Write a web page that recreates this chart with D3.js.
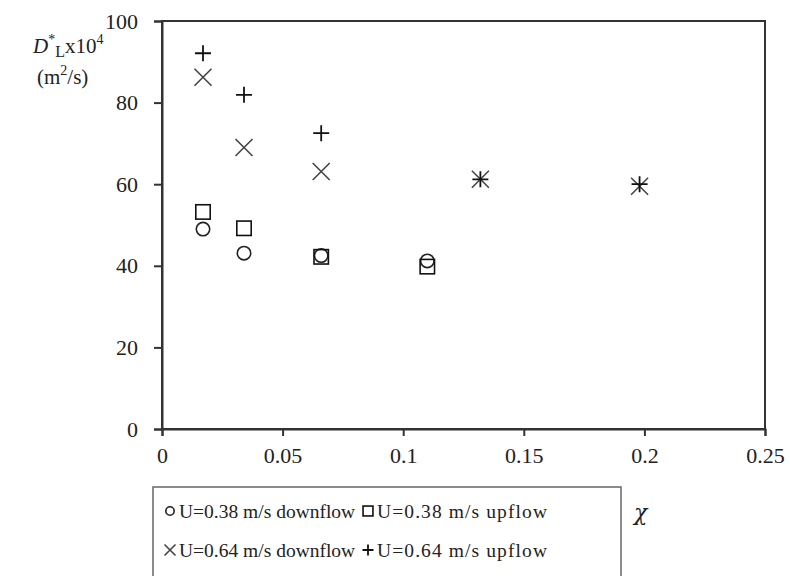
<!DOCTYPE html>
<html><head><meta charset="utf-8">
<script src="https://cdn.jsdelivr.net/npm/d3@7"></script>
<style>body{margin:0;background:#fff}svg{display:block}text{font-family:"Liberation Serif","Times New Roman",serif;fill:#222}</style>
</head><body><svg id="c" width="790" height="576"></svg>
<script>
const seriesNames = ["U=0.38 m/s downflow","U=0.38 m/s upflow","U=0.64 m/s downflow","U=0.64 m/s upflow"];
const seriesSymbols = ["circle","square","cross","plus"];
const chi038 = [0.017,0.034,0.066,0.110];
const down038 = [49.0,43.1,42.5,41.2];
const up038 = [53.2,49.2,42.2,39.8];
const chi064 = [0.017,0.034,0.066,0.132,0.198];
const down064 = [86.2,69.0,63.1,61.2,59.5];
const up064 = [92.1,81.9,72.5,61.2,60.0];
const xTicks = [0,0.05,0.1,0.15,0.2,0.25];
const xTickLabels = ["0","0.05","0.1","0.15","0.2","0.25"];
const yTicks = [0,20,40,60,80,100];

const series = [
  {name:seriesNames[0],sym:seriesSymbols[0],x:chi038,y:down038},
  {name:seriesNames[1],sym:seriesSymbols[1],x:chi038,y:up038},
  {name:seriesNames[2],sym:seriesSymbols[2],x:chi064,y:down064},
  {name:seriesNames[3],sym:seriesSymbols[3],x:chi064,y:up064}
];

const L=162,R=765,T=21,B=429;
const svg=d3.select("#c");
const x=d3.scaleLinear().domain([0,0.25]).range([L,R]);
const y=d3.scaleLinear().domain([0,100]).range([B,T]);

svg.append("rect").attr("x",L).attr("y",T).attr("width",R-L).attr("height",B-T)
  .attr("fill","none").attr("stroke","#333").attr("stroke-width",2);

const xa=svg.append("g").attr("transform",`translate(0,${B})`)
  .call(d3.axisBottom(x).tickValues(xTicks).tickFormat((d,i)=>xTickLabels[i]).tickSize(7).tickPadding(11));
const ya=svg.append("g").attr("transform",`translate(${L},0)`)
  .call(d3.axisLeft(y).tickValues(yTicks).tickSize(8).tickPadding(16));
[xa,ya].forEach(g=>{
  g.attr("font-family",null);
  g.select(".domain").attr("stroke","#333").attr("stroke-width",2);
  g.selectAll(".tick line").attr("stroke","#333").attr("stroke-width",2);
  g.selectAll(".tick text").style("font-family","'Liberation Serif',serif").attr("font-size",22).attr("fill","#222");
});

function drawSym(g,sym,cx,cy,s){
  if(sym==="circle") g.append("circle").attr("cx",cx).attr("cy",cy).attr("r",s*0.42).attr("fill","none").attr("stroke","#222").attr("stroke-width",1.6);
  else if(sym==="square") g.append("rect").attr("x",cx-s*0.45).attr("y",cy-s*0.45).attr("width",s*0.9).attr("height",s*0.9).attr("fill","none").attr("stroke","#111").attr("stroke-width",1.6);
  else if(sym==="cross") g.append("path").attr("d",`M${cx-s/2},${cy-s/2}L${cx+s/2},${cy+s/2}M${cx-s/2},${cy+s/2}L${cx+s/2},${cy-s/2}`).attr("stroke","#444").attr("stroke-width",1.6);
  else g.append("path").attr("d",`M${cx-s/2},${cy}L${cx+s/2},${cy}M${cx},${cy-s/2}L${cx},${cy+s/2}`).attr("stroke","#111").attr("stroke-width",1.8);
}
const pts=svg.append("g");
series.forEach(s=>{
  s.x.forEach((xv,i)=>drawSym(pts,s.sym,x(xv),y(s.y[i]),s.sym==="cross"?17:16));
});

const t1=svg.append("text").attr("x",33).attr("y",53).attr("font-size",21);
t1.append("tspan").attr("font-style","italic").text("D");
t1.append("tspan").attr("dy",-9).attr("font-size",14).text("*");
t1.append("tspan").attr("dy",13).attr("font-size",16).text("L");
t1.append("tspan").attr("dy",-4).text("x10");
t1.append("tspan").attr("dy",-9).attr("font-size",14).text("4");
const t2=svg.append("text").attr("x",37).attr("y",84).attr("font-size",21);
t2.append("tspan").text("(m");
t2.append("tspan").attr("dy",-9).attr("font-size",14).text("2");
t2.append("tspan").attr("dy",9).text("/s)");

svg.append("rect").attr("x",153).attr("y",487).attr("width",468).attr("height",95)
  .attr("fill","#fff").attr("stroke","#666").attr("stroke-width",1.5);
const lx=[165,363], ly=[518,557];
series.forEach((s,i)=>{
  const cx=lx[i%2], cy=ly[Math.floor(i/2)];
  const g=svg.append("g");
  drawSym(g,s.sym,cx+5,cy-7,s.sym==="circle"?10:11);
  const t=svg.append("text").attr("x",cx+14).attr("y",cy).attr("font-size",19.5).text(s.name);
  if(i%2===1) t.attr("textLength",170).attr("lengthAdjust","spacing");
});
svg.append("text").attr("x",634).attr("y",520).attr("font-size",22).attr("font-style","italic")
  .style("font-family","'DejaVu Serif',serif").text("χ");
</script></body></html>
